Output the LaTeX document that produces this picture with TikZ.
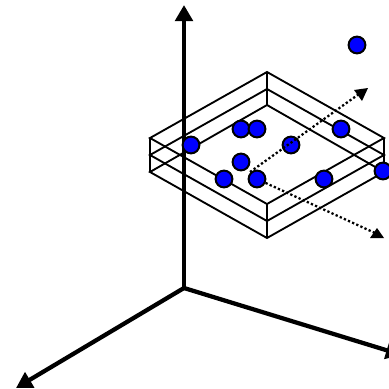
\documentclass[tikz,border=0pt]{standalone}
\usetikzlibrary{arrows.meta}
\tikzset{
	axisline/.style={line width=3.2pt,-{Triangle[length=12pt,width=13pt]}},
	layerline/.style={line width=1.4pt,line join=miter},
	dottedline/.style={line width=1.7pt,dash pattern={on 1.7pt off 1.7pt}},
	dottedtip/.style={fill=black},
	pointdot/.style={circle,draw=black,fill=blue,line width=1.5pt,inner sep=0pt,minimum size=12.6pt}
}
\begin{document}
\begin{tikzpicture}[x=0.75pt,y=0.75pt,yscale=-1,xscale=1]
	\useasboundingbox (0,0) rectangle (389,389);

	%Stacked layers
	\draw [layerline]  (267,72) -- (150,138) -- (267,204) -- (384,138) -- cycle ;
	\draw [layerline]  (267,89) -- (150,155) -- (267,221) -- (384,155) -- cycle ;
	\draw [layerline]  (267,105) -- (150,172) -- (267,238) -- (384,172) -- cycle ;
	\draw [layerline]  (267,72) -- (267,105) ;
	\draw [layerline]  (150,138) -- (150,172) ;
	\draw [layerline]  (267,204) -- (267,238) ;
	\draw [layerline]  (384,138) -- (384,172) ;

	%Axes
	\coordinate (origin) at (184,288);
	\coordinate (axisup) at (184,5);
	\coordinate (axisleft) at (16,388);
	\coordinate (axisright) at (402,355);
	\draw [axisline]  (origin) -- (axisup) ;
	\draw [axisline]  (origin) -- (axisleft) ;
	\draw [axisline]  (origin) -- (axisright) ;

	%Points
	\node [pointdot] (ptfar) at (357,45) {};
	\node [pointdot] (pta) at (241,129) {};
	\node [pointdot] (ptb) at (257,129) {};
	\node [pointdot] (ptc) at (191,145) {};
	\node [pointdot] (ptd) at (291,145) {};
	\node [pointdot] (pte) at (341,129) {};
	\node [pointdot] (ptf) at (241,162) {};
	\node [pointdot] (ptg) at (224,179) {};
	\node [pointdot] (pth) at (257,179) {};
	\node [pointdot] (pti) at (324,179) {};
	\node [pointdot] (ptj) at (383,171) {};

	%Dotted arrows
	\coordinate (startup) at (250,172);
	\coordinate (endup) at (359,94);
	\coordinate (enddown) at (375,233);
	\draw [dottedline]  (startup) -- (endup) ;
	\draw [dottedline]  (pth) -- (enddown) ;
	\fill [dottedtip]  (368,88) -- (354,90) -- (362,101) -- cycle ;
	\fill [dottedtip]  (377,228) -- (370,238) -- (384,238) -- cycle ;
\end{tikzpicture}
\end{document}
